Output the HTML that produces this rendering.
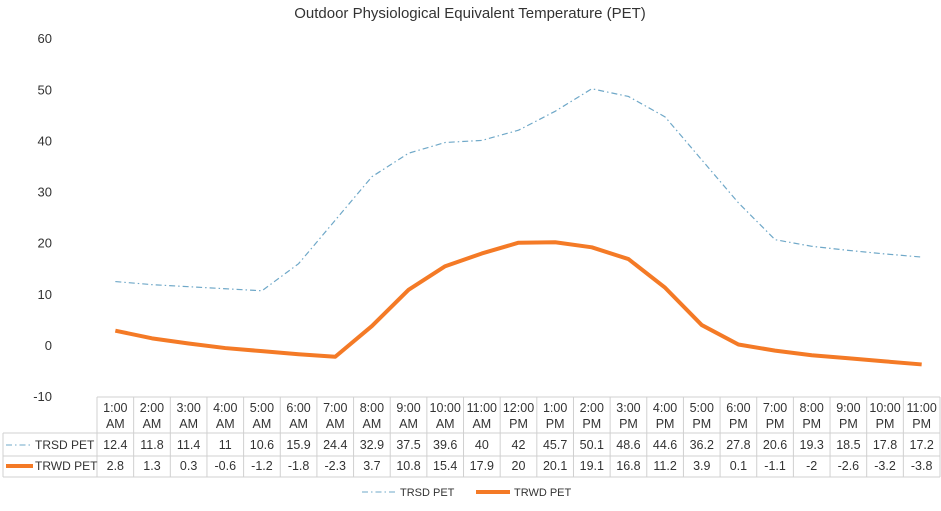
<!DOCTYPE html>
<html><head><meta charset="utf-8"><style>
body{margin:0;background:#fff;font-family:"Liberation Sans",sans-serif}
svg text{font-family:"Liberation Sans",sans-serif;fill:#333}
</style></head><body>
<svg id="c" width="941" height="506"></svg>
<script>
const categories=["1:00|AM","2:00|AM","3:00|AM","4:00|AM","5:00|AM","6:00|AM","7:00|AM","8:00|AM","9:00|AM","10:00|AM","11:00|AM","12:00|PM","1:00|PM","2:00|PM","3:00|PM","4:00|PM","5:00|PM","6:00|PM","7:00|PM","8:00|PM","9:00|PM","10:00|PM","11:00|PM"];
const trsd=[12.4,11.8,11.4,11,10.6,15.9,24.4,32.9,37.5,39.6,40,42,45.7,50.1,48.6,44.6,36.2,27.8,20.6,19.3,18.5,17.8,17.2];
const trwd=[2.8,1.3,0.3,-0.6,-1.2,-1.8,-2.3,3.7,10.8,15.4,17.9,20,20.1,19.1,16.8,11.2,3.9,0.1,-1.1,-2,-2.6,-3.2,-3.8];
const yTicks=[60,50,40,30,20,10,0,-10];
const NS="http://www.w3.org/2000/svg",svg=document.getElementById('c');
const x0=97,x1=940,cw=(x1-x0)/categories.length;
const xs=i=>x0+cw*(i+0.5);
const ys=v=>345-v*5.114;
function mk(t,a,p){const e=document.createElementNS(NS,t);for(const k in a)e.setAttribute(k,a[k]);(p||svg).appendChild(e);return e;}
let t=mk('text',{x:470,y:18,'text-anchor':'middle','font-size':15});t.textContent='Outdoor Physiological Equivalent Temperature (PET)';


yTicks.forEach(v=>{const e=mk('text',{x:52,y:ys(v)+5,'text-anchor':'end','font-size':13});e.textContent=v;

});
function line(data,attrs,name){const p=mk('path',Object.assign({d:data.map((v,i)=>(i?'L':'M')+xs(i)+','+ys(v)).join(''),fill:'none'},attrs));

}
line(trsd,{stroke:'#6fa8c8','stroke-width':1.2,'stroke-dasharray':'6,3,1.5,3'},'trsd-line');
line(trwd,{stroke:'#f47a26','stroke-width':4,'stroke-linejoin':'round'},'trwd-line');
const yh0=397,yh1=433,yr1=456,yr2=477,grid='#d0d0d0';
mk('line',{x1:x0,y1:yh0,x2:x1,y2:yh0,stroke:grid});
[yh1,yr1,yr2].forEach(y=>mk('line',{x1:3,y1:y,x2:x1,y2:y,stroke:grid}));
mk('line',{x1:3,y1:yh1,x2:3,y2:yr2,stroke:grid});
for(let i=0;i<=categories.length;i++)mk('line',{x1:x0+cw*i,y1:yh0,x2:x0+cw*i,y2:yr2,stroke:grid});
categories.forEach((c,i)=>{const [a,b]=c.split('|');
let e=mk('text',{x:xs(i),y:412,'text-anchor':'middle','font-size':12.5});e.textContent=a;


e=mk('text',{x:xs(i),y:428,'text-anchor':'middle','font-size':12.5});e.textContent=b;
e=mk('text',{x:xs(i),y:449,'text-anchor':'middle','font-size':12.5});e.textContent=trsd[i];


e=mk('text',{x:xs(i),y:470,'text-anchor':'middle','font-size':12.5});e.textContent=trwd[i];

});
mk('line',{x1:6,y1:445,x2:33,y2:445,stroke:'#6fa8c8','stroke-dasharray':'6,3,1.5,3'});
let e=mk('text',{x:35,y:449,'font-size':12});e.textContent='TRSD PET';
mk('line',{x1:6,y1:466,x2:33,y2:466,stroke:'#f47a26','stroke-width':4});
e=mk('text',{x:35,y:470,'font-size':12});e.textContent='TRWD PET';
mk('line',{x1:362,y1:492,x2:396,y2:492,stroke:'#6fa8c8','stroke-dasharray':'6,3,1.5,3'});
e=mk('text',{x:400,y:496,'font-size':11});e.textContent='TRSD PET';


mk('line',{x1:476,y1:492,x2:510,y2:492,stroke:'#f47a26','stroke-width':4});
e=mk('text',{x:514,y:496,'font-size':11});e.textContent='TRWD PET';


</script>
</body></html>
